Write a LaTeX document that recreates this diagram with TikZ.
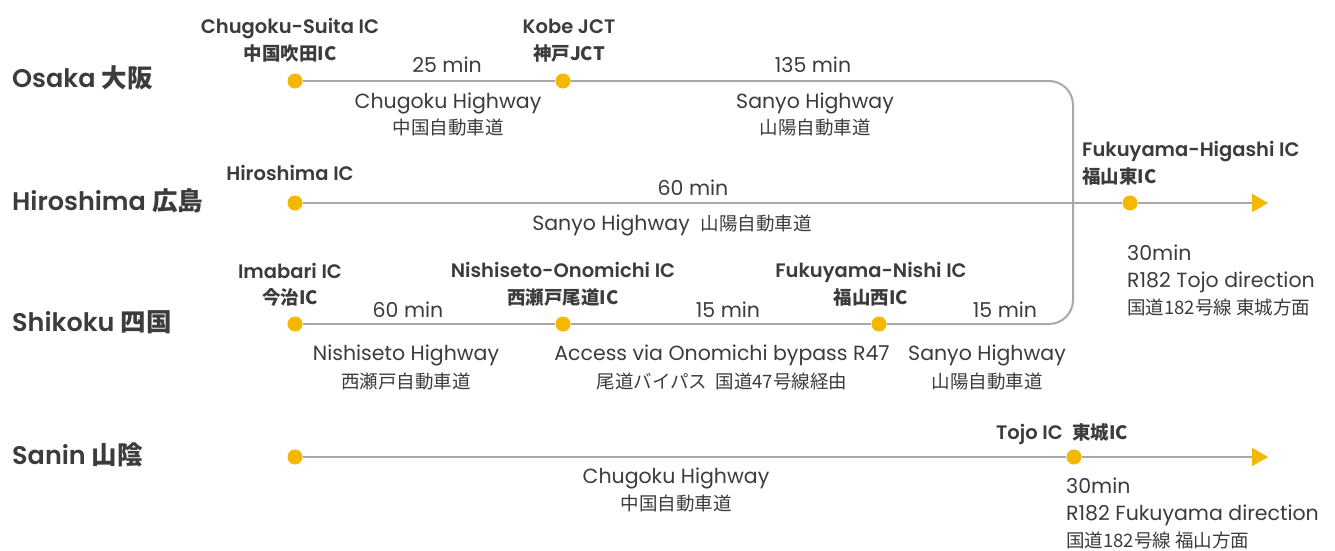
\documentclass[tikz,border=0pt]{standalone}
\usepackage{fontspec}
\setmainfont{Poppins}[BoldFont={Poppins SemiBold}]
\newfontfamily\jp{Noto Sans CJK JP}
\usetikzlibrary{arrows.meta}
\definecolor{txt}{HTML}{3C3C3C}
\definecolor{dotc}{HTML}{F5B800}
\definecolor{roadc}{HTML}{A8A8A8}
\begin{document}
\begin{tikzpicture}[x=1pt,y=-1pt,
  every node/.style={text=txt, inner sep=0pt, text height=1.4em, text depth=0pt},
  ic/.style={circle, fill=dotc, minimum size=15pt, inner sep=0pt, text height=, text depth=},
  region/.style={anchor=west, font=\fontsize{25.5}{25.5}\selectfont\bfseries},
  stn/.style={font=\fontsize{19.5}{19.5}\selectfont\bfseries},
  stnj/.style={font=\jp\fontsize{18.5}{18.5}\selectfont\bfseries},
  lab/.style={font=\fontsize{20.5}{20.5}\selectfont},
  labj/.style={font=\jp\fontsize{18.5}{18.5}\selectfont},
  road/.style={draw=roadc, line width=2pt},
  go/.style={road, -{Triangle[length=16pt,width=18pt,color=dotc]}}
]
\fill[white] (0,0) rectangle (1335,551);
\useasboundingbox (0,0) rectangle (1335,551);

% region names
\node[region] (osaka) at (12,80) {Osaka {\jp 大阪}};
\node[region] (hiroshima) at (12,203) {Hiroshima {\jp 広島}};
\node[region] (shikoku) at (12,324) {Shikoku {\jp 四国}};
\node[region] (sanin) at (12,457) {Sanin {\jp 山陰}};

% coordinates
\coordinate (ne) at (1073,81);
\coordinate (se) at (1073,324);
\coordinate (hend) at (1268,203);
\coordinate (send) at (1268,457);

% interchanges
\node[ic] (suita) at (295,81) {};
\node[ic] (kobe) at (563,81) {};
\node[ic] (hiro) at (295,203) {};
\node[ic] (fhig) at (1130,203) {};
\node[ic] (imabari) at (295,324) {};
\node[ic] (onom) at (563,324) {};
\node[ic] (fnishi) at (879,324) {};
\node[ic] (saninst) at (295,457) {};
\node[ic] (tojo) at (1074,457) {};

% roads
\draw[road] (suita) -- (kobe);
\draw[road, rounded corners=24pt] (kobe) -- (ne) -- (se) -- (fnishi);
\draw[road] (hiro) -- (fhig);
\draw[go] (fhig) -- (hend);
\draw[road] (imabari) -- (onom);
\draw[road] (onom) -- (fnishi);
\draw[road] (saninst) -- (tojo);
\draw[go] (tojo) -- (send);

% Osaka row
\node[stn] (t-suita) at (290,27) {Chugoku-Suita IC};
\node[stnj] (t-suitaj) at (290,53) {中国吹田IC};
\node[stn] (t-kobe) at (569,27) {Kobe JCT};
\node[stnj] (t-kobej) at (569,53) {神戸JCT};
\node[lab] (m1) at (447,65) {25 min};
\node[lab] (h1) at (448,101) {Chugoku Highway};
\node[labj] (h1j) at (448,127) {中国自動車道};
\node[lab] (m2) at (813,65) {135 min};
\node[lab] (h2) at (815,101) {Sanyo Highway};
\node[labj] (h2j) at (815,127) {山陽自動車道};

% Hiroshima row
\node[stn] (t-hiro) at (290,173) {Hiroshima IC};
\node[lab] (m3) at (693,188) {60 min};
\node[lab] (h3) at (672,223) {Sanyo Highway\ \ {\jp\fontsize{18.5}{18.5}\selectfont 山陽自動車道}};
\node[stn, anchor=west] (t-fhig) at (1082,149) {Fukuyama-Higashi IC};
\node[stnj, anchor=west] (t-fhigj) at (1082,176) {福山東IC};
\node[lab, anchor=west] (d1) at (1127,253) {30min};
\node[lab, anchor=west] (d2) at (1127,280) {R182 Tojo direction};
\node[labj, anchor=west] (d3) at (1127,307) {国道182号線 東城方面};

% Shikoku row
\node[stn] (t-imabari) at (290,271) {Imabari IC};
\node[stnj] (t-imabarij) at (290,297) {今治IC};
\node[stn] (t-onom) at (563,270) {Nishiseto-Onomichi IC};
\node[stnj] (t-onomj) at (563,297) {西瀬戸尾道IC};
\node[stn] (t-fnishi) at (871,270) {Fukuyama-Nishi IC};
\node[stnj] (t-fnishij) at (871,297) {福山西IC};
\node[lab] (m4) at (408,310) {60 min};
\node[lab] (m5) at (728,310) {15 min};
\node[lab] (m6) at (1005,310) {15 min};
\node[lab] (h4) at (406,353) {Nishiseto Highway};
\node[labj] (h4j) at (406,381) {西瀬戸自動車道};
\node[lab] (h5) at (722,353) {Access via Onomichi bypass R47};
\node[labj] (h5j) at (722,381) {尾道バイパス\ \ 国道47号線経由};
\node[lab] (h6) at (987,353) {Sanyo Highway};
\node[labj] (h6j) at (987,381) {山陽自動車道};

% Sanin row
\node[stn] (t-tojo) at (1062,432) {Tojo IC\ \ {\jp\fontsize{18.5}{18.5}\selectfont\bfseries 東城IC}};
\node[lab] (h7) at (676,476) {Chugoku Highway};
\node[labj] (h7j) at (676,503) {中国自動車道};
\node[lab, anchor=west] (e1) at (1066,486) {30min};
\node[lab, anchor=west] (e2) at (1066,513) {R182 Fukuyama direction};
\node[labj, anchor=west] (e3) at (1066,540) {国道182号線 福山方面};
\end{tikzpicture}
\end{document}
